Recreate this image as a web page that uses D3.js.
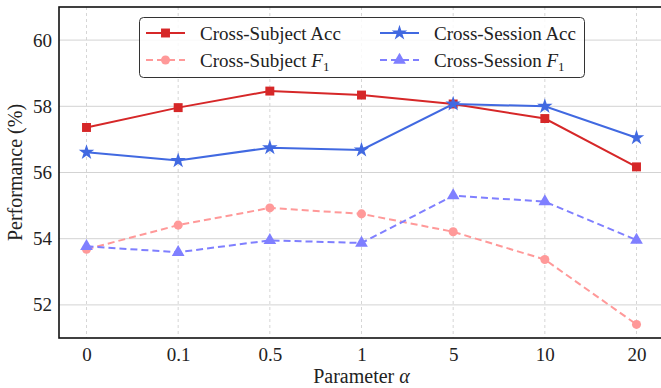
<!DOCTYPE html>
<html>
<head>
<meta charset="utf-8">
<script src="https://cdn.jsdelivr.net/npm/d3@7"></script>
<style>
  body { margin: 0; background: #fff; }
  svg { display: block; font-family: "Liberation Serif", "Times New Roman", "DejaVu Serif", serif; }
  svg text { font-family: "Liberation Serif", "Times New Roman", "DejaVu Serif", serif; }
</style>
</head>
<body>
<svg id="chart" width="661" height="388"></svg>
<script>
const categories = ["0", "0.1", "0.5", "1", "5", "10", "20"];
const crossSubjectAcc = [57.36, 57.96, 58.46, 58.34, 58.07, 57.63, 56.17];
const crossSessionAcc = [56.61, 56.36, 56.75, 56.68, 58.07, 58.00, 57.05];
const crossSubjectF1 = [53.68, 54.41, 54.93, 54.75, 54.21, 53.37, 51.41];
const crossSessionF1 = [53.77, 53.59, 53.95, 53.87, 55.30, 55.12, 53.96];
const yTicks = [52, 54, 56, 58, 60];

const series = [
  { name: "Cross-Subject Acc", f1: false, values: crossSubjectAcc, color: "#d62728", dash: null, symbol: d3.symbolSquare, size: 80 },
  { name: "Cross-Subject", f1: true, values: crossSubjectF1, color: "#ff9999", dash: "7,4", symbol: d3.symbolCircle, size: 64 },
  { name: "Cross-Session Acc", f1: false, values: crossSessionAcc, color: "#4169e1", dash: null, symbol: d3.symbolStar, size: 75 },
  { name: "Cross-Session", f1: true, values: crossSessionF1, color: "#7f7fff", dash: "7,4", symbol: d3.symbolTriangle, size: 70 }
];

const svg = d3.select("#chart");
const mLeft = 59, mRight = 664, mTop = 7, mBottom = 338;

const x = d3.scalePoint().domain(categories).range([mLeft, mRight]).padding(0.3);
const y = d3.scaleLinear().domain([51, 61]).range([mBottom, mTop]);

// grid
svg.append("g").selectAll("line").data(yTicks).join("line")
  .attr("x1", mLeft).attr("x2", mRight)
  .attr("y1", d => y(d)).attr("y2", d => y(d))
  .attr("stroke", "#d3d3d3").attr("stroke-width", 1);
svg.append("g").selectAll("line").data(categories).join("line")
  .attr("x1", d => x(d)).attr("x2", d => x(d))
  .attr("y1", mTop).attr("y2", mBottom)
  .attr("stroke", "#cccccc").attr("stroke-width", 0.8).attr("stroke-dasharray", "3,3");

// axes
const yAxis = svg.append("g").attr("transform", `translate(${mLeft},0)`)
  .call(d3.axisLeft(y).tickValues(yTicks).tickSize(0).tickPadding(7).tickFormat(d3.format("d")));
yAxis.attr("font-family", null);
yAxis.select(".domain").remove();
yAxis.selectAll("text").attr("font-size", 19).attr("fill", "#222");

const xAxis = svg.append("g").attr("transform", `translate(0,${mBottom})`)
  .call(d3.axisBottom(x).tickSize(0).tickPadding(10));
xAxis.attr("font-family", null);
xAxis.select(".domain").remove();
xAxis.selectAll("text").attr("font-size", 19).attr("fill", "#222");

// spines
svg.append("rect").attr("x", mLeft).attr("y", mTop).attr("width", mRight - mLeft).attr("height", mBottom - mTop)
  .attr("fill", "none").attr("stroke", "#111").attr("stroke-width", 1.6);

// lines
const line = d3.line().x((d, i) => x(categories[i])).y(d => y(d));
series.forEach(s => {
  svg.append("path").datum(s.values).attr("d", line)
    .attr("fill", "none").attr("stroke", s.color).attr("stroke-width", 2)
    .attr("stroke-dasharray", s.dash);
  svg.append("g").selectAll("path").data(s.values).join("path")
    .attr("transform", (d, i) => `translate(${x(categories[i])},${y(d)})`)
    .attr("d", d3.symbol().type(s.symbol).size(s.size))
    .attr("fill", s.color);
});

// legend
const lg = svg.append("g");
lg.append("rect").attr("x", 139.5).attr("y", 17.5).attr("width", 445).attr("height", 60)
  .attr("rx", 4).attr("fill", "rgba(255,255,255,0.85)").attr("stroke", "#333").attr("stroke-width", 1);
const pos = [[146, 33], [146, 60], [380, 33], [380, 60]];
series.forEach((s, i) => {
  const [lx, ly] = pos[i];
  lg.append("line").attr("x1", lx).attr("x2", lx + 39).attr("y1", ly).attr("y2", ly)
    .attr("stroke", s.color).attr("stroke-width", 2).attr("stroke-dasharray", s.dash);
  lg.append("path").attr("transform", `translate(${lx + 19.5},${ly})`)
    .attr("d", d3.symbol().type(s.symbol).size(s.size)).attr("fill", s.color);
  const t = lg.append("text").attr("x", lx + 54).attr("y", ly + 6.5)
    .attr("font-size", 19).attr("fill", "#222");
  if (s.f1) {
    t.append("tspan").text(s.name + " ");
    t.append("tspan").attr("font-style", "italic").text("F");
    t.append("tspan").attr("font-size", 13).attr("dy", 4).text("1");
  } else {
    t.text(s.name);
  }
});

// axis labels
svg.append("text").attr("x", (mLeft + mRight) / 2).attr("y", 383)
  .attr("text-anchor", "middle").attr("font-size", 20).attr("fill", "#222")
  .call(t => {
    t.append("tspan").text("Parameter ");
    t.append("tspan").attr("font-style", "italic").text("α");
  });
svg.append("text").attr("transform", `translate(22,${(mTop + mBottom) / 2}) rotate(-90)`)
  .attr("text-anchor", "middle").attr("font-size", 20).attr("fill", "#222")
  .text("Performance (%)");
</script>
</body>
</html>
